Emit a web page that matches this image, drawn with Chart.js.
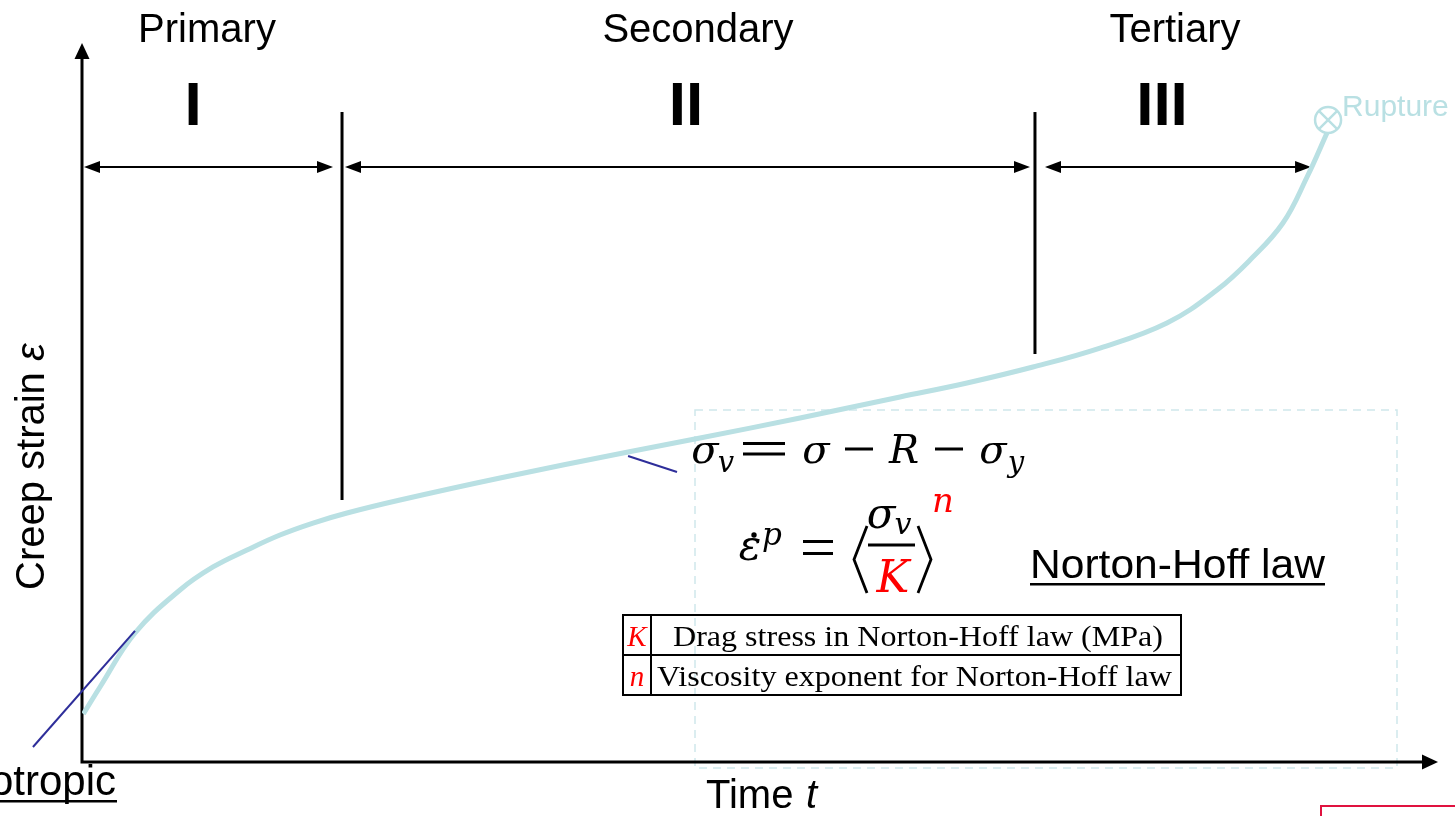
<!DOCTYPE html>
<html>
<head>
<meta charset="utf-8">
<title>Creep curve - Norton-Hoff law</title>
<script src="https://cdn.jsdelivr.net/npm/chart.js@4.4.1/dist/chart.umd.min.js"></script>
<style>
  html, body { margin: 0; padding: 0; background: #fff; }
  #wrap { width: 1455px; height: 816px; position: relative; }
</style>
</head>
<body>
<div id="wrap"><canvas id="chart"></canvas></div>
<script>
// creep curve (time and strain in axis units 0..100)
const timeVals   = [0.1, 1.33, 3.91, 7.23, 9.67, 12.18, 14.61, 17.05, 19.56, 23.47, 30.85, 40.30,
                    45.61, 52.99, 60.37, 65.31, 70.18, 75.13, 80.07, 83.76, 86.20, 88.63, 90.41, 91.88];
const strainVals = [6.7, 10.46, 17.99, 23.99, 27.20, 29.57, 31.66, 33.33, 34.73, 36.54, 39.61, 43.24,
                    45.19, 47.98, 50.91, 52.86, 55.09, 57.74, 61.23, 65.83, 70.01, 75.17, 81.59, 87.73];

// tangent guide lines
const tangent1Time = [-3.62, 3.91];
const tangent1Strain = [2.09, 18.3];
const tangent2Time = [40.30, 43.91];
const tangent2Strain = [42.68, 40.45];

// rupture point
const ruptureTime = [91.96];
const ruptureStrain = [89.54];

// stage boundaries (time units) and labels
const stageBounds = [0, 19.19, 70.33, 91.0];
const stageNames = ['Primary', 'Secondary', 'Tertiary'];
const stageNumerals = ['I', 'II', 'III'];
const boundaryTop = 90.65;
const boundaryBottom = [36.54, 56.9];

const tableRows = [
  ['K', 'Drag stress in Norton-Hoff law (MPa)'],
  ['n', 'Viscosity exponent for Norton-Hoff law']
];

const CURVE = '#b9e0e3';
const NAVY = '#2e2e9a';
const SANS = '"Liberation Sans", Arial, sans-serif';
const SERIF = '"Liberation Serif", "Times New Roman", serif';
const MATH = '"DejaVu Serif", serif';

const pts = (xs, ys) => xs.map((x, i) => ({ x, y: ys[i] }));

// draw text stretched to a target width
function fitText(ctx, text, x0, x1, y) {
  const w = ctx.measureText(text).width;
  ctx.save();
  ctx.translate(x0, y);
  ctx.scale((x1 - x0) / w, 1);
  ctx.textAlign = 'left';
  ctx.fillText(text, 0, 0);
  ctx.restore();
}

function arrowHead(ctx, x, y, dir, len, half) {
  ctx.beginPath();
  if (dir === 'r') { ctx.moveTo(x, y); ctx.lineTo(x - len, y - half); ctx.lineTo(x - len, y + half); }
  if (dir === 'l') { ctx.moveTo(x, y); ctx.lineTo(x + len, y - half); ctx.lineTo(x + len, y + half); }
  if (dir === 'u') { ctx.moveTo(x, y); ctx.lineTo(x - half, y + len); ctx.lineTo(x + half, y + len); }
  ctx.closePath();
  ctx.fill();
}

const diagram = {
  id: 'diagram',
  beforeDatasetsDraw(chart) {
    const { ctx, chartArea: a } = chart;
    const X = chart.scales.x, Y = chart.scales.y;
    ctx.save();
    // dashed frame round the law
    ctx.strokeStyle = '#cfe8eb';
    ctx.lineWidth = 1.5;
    ctx.setLineDash([8, 6]);
    ctx.strokeRect(695, 410, 702, 358);
    ctx.setLineDash([]);

    // axes with arrows
    ctx.strokeStyle = '#000';
    ctx.fillStyle = '#000';
    ctx.lineWidth = 3;
    ctx.beginPath();
    ctx.moveTo(a.left, a.bottom + 1.5);
    ctx.lineTo(a.left, a.top + 14);
    ctx.moveTo(a.left - 1.5, a.bottom);
    ctx.lineTo(a.right - 14, a.bottom);
    ctx.stroke();
    arrowHead(ctx, a.left, a.top - 2, 'u', 16, 7.5);
    arrowHead(ctx, a.right + 1, a.bottom, 'r', 16, 7.5);

    // stage boundaries
    ctx.lineWidth = 3;
    [1, 2].forEach((k, i) => {
      const bx = X.getPixelForValue(stageBounds[k]);
      ctx.beginPath();
      ctx.moveTo(bx, Y.getPixelForValue(boundaryTop));
      ctx.lineTo(bx, Y.getPixelForValue(boundaryBottom[i]));
      ctx.stroke();
    });

    // double arrows
    const ay = 167;
    ctx.lineWidth = 2;
    const spans = [
      [X.getPixelForValue(stageBounds[0]) + 2, X.getPixelForValue(stageBounds[1]) - 9],
      [X.getPixelForValue(stageBounds[1]) + 3, X.getPixelForValue(stageBounds[2]) - 5],
      [X.getPixelForValue(stageBounds[2]) + 10, X.getPixelForValue(stageBounds[3]) - 4]
    ];
    spans.forEach(([s, e]) => {
      ctx.beginPath();
      ctx.moveTo(s + 8, ay);
      ctx.lineTo(e - 8, ay);
      ctx.stroke();
      arrowHead(ctx, s, ay, 'l', 16, 6);
      arrowHead(ctx, e, ay, 'r', 16, 6);
    });

    // stage names and numerals
    ctx.textAlign = 'center';
    ctx.textBaseline = 'alphabetic';
    ctx.font = '40px ' + SANS;
    const nameX = [207, 698, 1175];
    stageNames.forEach((s, i) => ctx.fillText(s, nameX[i], 42));
    ctx.font = 'bold 62px ' + SANS;
    const numX = [193, 686, 1162];
    stageNumerals.forEach((s, i) => ctx.fillText(s, numX[i], 125));
    ctx.restore();
  },
  afterDatasetsDraw(chart) {
    const { ctx } = chart;
    const X = chart.scales.x, Y = chart.scales.y;
    ctx.save();
    ctx.textBaseline = 'alphabetic';

    // axis titles
    ctx.fillStyle = '#000';
    ctx.font = '40px ' + SANS;
    ctx.save();
    ctx.translate(44, 590);
    ctx.rotate(-Math.PI / 2);
    ctx.textAlign = 'left';
    ctx.fillText('Creep strain ', 0, 0);
    const cw = ctx.measureText('Creep strain ').width;
    ctx.font = 'italic 40px ' + SANS;
    ctx.fillText('ε', cw, 0);
    ctx.restore();

    ctx.textAlign = 'left';
    ctx.font = '40px ' + SANS;
    ctx.fillText('Time ', 706, 808);
    ctx.font = 'italic 40px ' + SANS;
    ctx.fillText('t', 806, 808);

    // rupture label
    const rx = X.getPixelForValue(ruptureTime[0]);
    const ry = Y.getPixelForValue(ruptureStrain[0]);
    ctx.fillStyle = CURVE;
    ctx.font = '30px ' + SANS;
    ctx.fillText('Rupture', rx + 14, ry - 4);

    // isotropic (cut at the left edge)
    ctx.fillStyle = '#000';
    ctx.font = '42px ' + SANS;
    ctx.textAlign = 'right';
    ctx.fillText('Isotropic', 116, 795);
    ctx.fillRect(0, 800, 117, 2.5);

    // Norton-Hoff law
    ctx.textAlign = 'left';
    ctx.font = '40px ' + SANS;
    fitText(ctx, 'Norton-Hoff law', 1030, 1325, 578);
    ctx.fillRect(1030, 583, 295, 2.5);

    // formula pieces: italic letters centred, operators as bars
    const glyph = (t, cx, y, size, color) => {
      ctx.fillStyle = color || '#000';
      ctx.font = 'italic ' + size + 'px ' + MATH;
      ctx.textAlign = 'center';
      ctx.fillText(t, cx, y);
    };
    const bar = (x0, x1, y) => {
      ctx.fillStyle = '#000';
      ctx.fillRect(x0, y - 1.5, x1 - x0, 3);
    };
    // sigma_v = sigma - R - sigma_y
    glyph('σ', 705, 463, 40);
    glyph('v', 726, 472, 29);
    bar(743, 785, 443.5); bar(743, 785, 454);
    glyph('σ', 816, 463, 40);
    bar(845, 873, 449);
    glyph('R', 904, 463, 40);
    bar(935, 963, 449);
    glyph('σ', 993, 463, 40);
    glyph('y', 1016, 472, 29);

    // eps-dot^p = <sigma_v / K>^n
    glyph('ε', 750, 560, 42);
    ctx.fillStyle = '#000';
    ctx.beginPath();
    ctx.arc(754, 535, 2.7, 0, Math.PI * 2);
    ctx.fill();
    glyph('p', 772, 545, 31);
    bar(803, 833, 541.5); bar(803, 833, 553.5);
    ctx.strokeStyle = '#000';
    ctx.lineWidth = 2.8;
    ctx.beginPath();
    ctx.moveTo(867, 526); ctx.lineTo(854, 559.5); ctx.lineTo(867, 593);
    ctx.moveTo(918, 526); ctx.lineTo(931, 559.5); ctx.lineTo(918, 593);
    ctx.moveTo(868, 545); ctx.lineTo(915, 545);
    ctx.stroke();
    glyph('σ', 881, 528, 42);
    glyph('v', 903, 534, 30);
    glyph('K', 893, 592, 44, '#ff0000');
    glyph('n', 943, 512, 34, '#ff0000');

    // parameter table
    const tx0 = 623, tx1 = 1181, ty0 = 615, rh = 40, col = 651;
    ctx.strokeStyle = '#000';
    ctx.lineWidth = 2;
    ctx.strokeRect(tx0, ty0, tx1 - tx0, rh * tableRows.length);
    ctx.beginPath();
    ctx.moveTo(tx0, ty0 + rh); ctx.lineTo(tx1, ty0 + rh);
    ctx.moveTo(col, ty0); ctx.lineTo(col, ty0 + rh * tableRows.length);
    ctx.stroke();
    const textSpan = [[673, 1163], [657, 1172]];
    tableRows.forEach(([sym, desc], i) => {
      const by = ty0 + rh * i + 31;
      ctx.fillStyle = '#ff0000';
      ctx.font = 'italic 29px ' + SERIF;
      ctx.textAlign = 'center';
      ctx.fillText(sym, (tx0 + col) / 2, by);
      ctx.fillStyle = '#000';
      ctx.font = '29px ' + SERIF;
      fitText(ctx, desc, textSpan[i][0], textSpan[i][1], by);
    });

    // red frame corner at the bottom right
    ctx.strokeStyle = '#e0123f';
    ctx.lineWidth = 2;
    ctx.beginPath();
    ctx.moveTo(1321, 830); ctx.lineTo(1321, 806); ctx.lineTo(1460, 806);
    ctx.stroke();
    ctx.restore();
  }
};

new Chart(document.getElementById('chart'), {
  type: 'line',
  data: {
    datasets: [
      {
        label: 'Creep strain',
        data: pts(timeVals, strainVals),
        borderColor: CURVE,
        borderWidth: 5,
        pointRadius: 0,
        tension: 0.4,
        fill: false,
        order: 3
      },
      {
        label: 'Tangent primary',
        data: pts(tangent1Time, tangent1Strain),
        borderColor: NAVY,
        borderWidth: 2,
        pointRadius: 0,
        clip: false,
        order: 1
      },
      {
        label: 'Tangent secondary',
        data: pts(tangent2Time, tangent2Strain),
        borderColor: NAVY,
        borderWidth: 2,
        pointRadius: 0,
        order: 1
      },
      {
        label: 'Rupture',
        data: pts(ruptureTime, ruptureStrain),
        showLine: false,
        pointStyle: 'circle',
        pointRadius: 13,
        pointBorderWidth: 2.5,
        pointBorderColor: CURVE,
        pointBackgroundColor: 'rgba(0,0,0,0)',
        clip: false,
        order: 2
      },
      {
        label: 'Rupture cross',
        data: pts(ruptureTime, ruptureStrain),
        showLine: false,
        pointStyle: 'crossRot',
        pointRadius: 13,
        pointBorderWidth: 2.5,
        pointBorderColor: CURVE,
        clip: false,
        order: 2
      }
    ]
  },
  options: {
    responsive: true,
    maintainAspectRatio: false,
    animation: false,
    layout: { padding: { left: 82, right: 18, top: 45, bottom: 54 } },
    plugins: { legend: { display: false }, tooltip: { enabled: false } },
    scales: {
      x: { type: 'linear', min: 0, max: 100, display: false },
      y: { type: 'linear', min: 0, max: 100, display: false }
    }
  },
  plugins: [diagram]
});
</script>
</body>
</html>
